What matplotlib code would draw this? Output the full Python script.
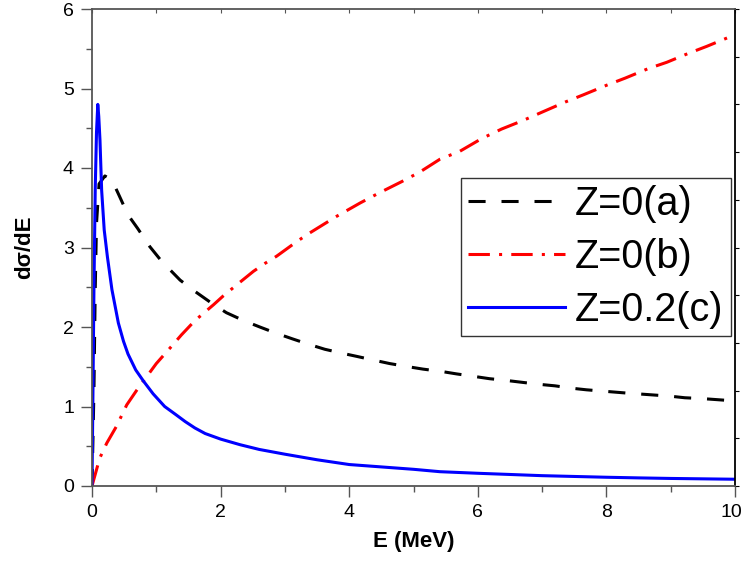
import numpy as np
import matplotlib
matplotlib.use("Agg")
import matplotlib.pyplot as plt
from matplotlib.transforms import ScaledTranslation

plt.rcParams['font.family'] = ['Liberation Sans', 'DejaVu Sans']

# Curve (a): Z=0(a), black dashed
E_a = [0, 0.03, 0.05, 0.07, 0.11, 0.2, 0.31, 0.43, 0.56, 0.71, 0.90, 1.08, 1.37, 1.58,
       1.86, 2.09, 2.36, 2.61, 2.87, 3.12, 3.38, 3.62, 3.89, 4.12, 4.40, 4.63, 4.92,
       5.15, 5.44, 5.67, 5.93, 6.18, 6.42, 6.94, 7.2, 7.46, 7.69, 8.3, 8.99, 9.22,
       9.48, 9.74, 10]
Y_a = [0, 1.2, 2.47, 3.3, 3.8, 3.9, 3.85, 3.64, 3.41, 3.24, 3.01, 2.83, 2.59, 2.46,
       2.30, 2.18, 2.08, 2.0, 1.92, 1.85, 1.78, 1.72, 1.67, 1.63, 1.58, 1.54, 1.50,
       1.47, 1.44, 1.41, 1.38, 1.35, 1.33, 1.28, 1.26, 1.23, 1.21, 1.17, 1.13, 1.11,
       1.10, 1.085, 1.07]

# Curve (b): Z=0(b), red dash-dot
E_b = [0, 0.12, 0.23, 0.38, 0.54, 0.70, 1.0, 1.24, 1.39, 1.60, 1.89, 2.04, 2.22, 2.51,
       2.69, 2.87, 3.16, 3.34, 3.52, 3.80, 4.17, 4.45, 4.82, 5.10, 5.41, 5.72, 6.06,
       6.37, 6.71, 7.02, 7.36, 7.64, 8.0, 8.29, 8.65, 8.94, 9.27, 9.56, 9.92, 10]
Y_b = [0, 0.35, 0.54, 0.75, 1.02, 1.21, 1.54, 1.76, 1.90, 2.08, 2.28, 2.39, 2.51, 2.70,
       2.80, 2.89, 3.06, 3.16, 3.25, 3.39, 3.56, 3.68, 3.83, 3.95, 4.11, 4.21, 4.37,
       4.49, 4.60, 4.71, 4.83, 4.92, 5.04, 5.13, 5.25, 5.33, 5.44, 5.53, 5.65, 5.67]

# Curve (c): Z=0.2(c), blue solid
E_c = [0, 0.015, 0.03, 0.05, 0.07, 0.09, 0.105, 0.124, 0.15, 0.19, 0.24, 0.31, 0.41,
       0.49, 0.56, 0.68, 0.80, 0.95, 1.13, 1.3, 1.45, 1.6, 1.76, 2.0, 2.3, 2.6, 3.0, 3.5,
       4.0, 4.5, 5.0, 5.41, 6.0, 6.5, 7.0, 7.5, 8.0, 8.5, 9.0, 9.5, 10.0]
Y_c = [0, 1.2, 2.47, 3.72, 4.45, 4.8, 4.65, 4.35, 3.72, 3.22, 2.88, 2.47, 2.05,
       1.82, 1.66, 1.46, 1.32, 1.16, 1.0, 0.9, 0.81, 0.73, 0.66, 0.59, 0.52, 0.46, 0.40,
       0.33, 0.27, 0.24, 0.21, 0.18, 0.16, 0.145, 0.13, 0.12, 0.11, 0.102, 0.095,
       0.09, 0.085]

labels = ['Z=0(a)', 'Z=0(b)', 'Z=0.2(c)']
x_ticks = [0, 2, 4, 6, 8, 10]
y_ticks = [0, 1, 2, 3, 4, 5, 6]

fig = plt.figure(figsize=(7.44, 5.62), dpi=100)
ax = fig.add_axes([92/744, 1 - 486/562, (735-92)/744, (486-9)/562])

lw = 2.2
ax.plot(E_a, Y_a, color='black', lw=lw, dashes=(5.6, 5.2), label=labels[0])
ax.plot(E_b, Y_b, color='#FF0000', lw=lw, dashes=(7, 3, 1, 3), label=labels[1])
ax.plot(E_c, Y_c, color='#0000FF', lw=lw, label=labels[2])

ax.set_xlim(0, 10)
ax.set_ylim(0, 6)
ax.set_xticks(x_ticks)
ax.set_yticks(y_ticks)
ax.set_xticks(np.arange(1, 10, 2), minor=True)
ax.set_yticks(np.arange(0.5, 6, 1), minor=True)
ax.tick_params(axis='both', which='major', direction='out', length=8, width=1,
               color='#555555', labelsize=14, pad=5)
ax.tick_params(axis='both', which='minor', direction='out', length=4, width=1,
               color='#555555')

for s in ['bottom', 'top', 'left']:
    ax.spines[s].set_color('#555555')
    ax.spines[s].set_linewidth(1.3)
ax.spines['right'].set_color('black')
ax.spines['right'].set_linewidth(1.3)

secx = ax.secondary_xaxis('top')
secx.set_xticks(np.arange(0, 11, 1))
secx.tick_params(direction='in', length=3, color='#555555', labeltop=False)
secx.spines['top'].set_visible(False)
secy = ax.secondary_yaxis('right')
secy.set_yticks(np.linspace(0, 6, 11))
secy.tick_params(direction='out', length=3, color='black', labelright=False)
secy.spines['right'].set_visible(False)

ax.set_xlabel('E (MeV)', fontsize=16, fontweight='bold', labelpad=7)
ax.set_ylabel('dσ/dE', fontsize=16, fontweight='bold', labelpad=20)

# keep the last x tick label inside the figure
last = ax.get_xticklabels()[-1]
last.set_transform(last.get_transform() + ScaledTranslation(-4/100, 0, fig.dpi_scale_trans))

leg = ax.legend(loc='upper left', bbox_to_anchor=((461-92)/643, (486-178)/477),
                fontsize=28.5, handlelength=2.45, handletextpad=0.25, labelspacing=0.38,
                borderpad=0.18, borderaxespad=0, fancybox=False, framealpha=1,
                edgecolor='#333333')
leg.get_frame().set_linewidth(1.0)

fig.savefig('out.png', dpi=100)
